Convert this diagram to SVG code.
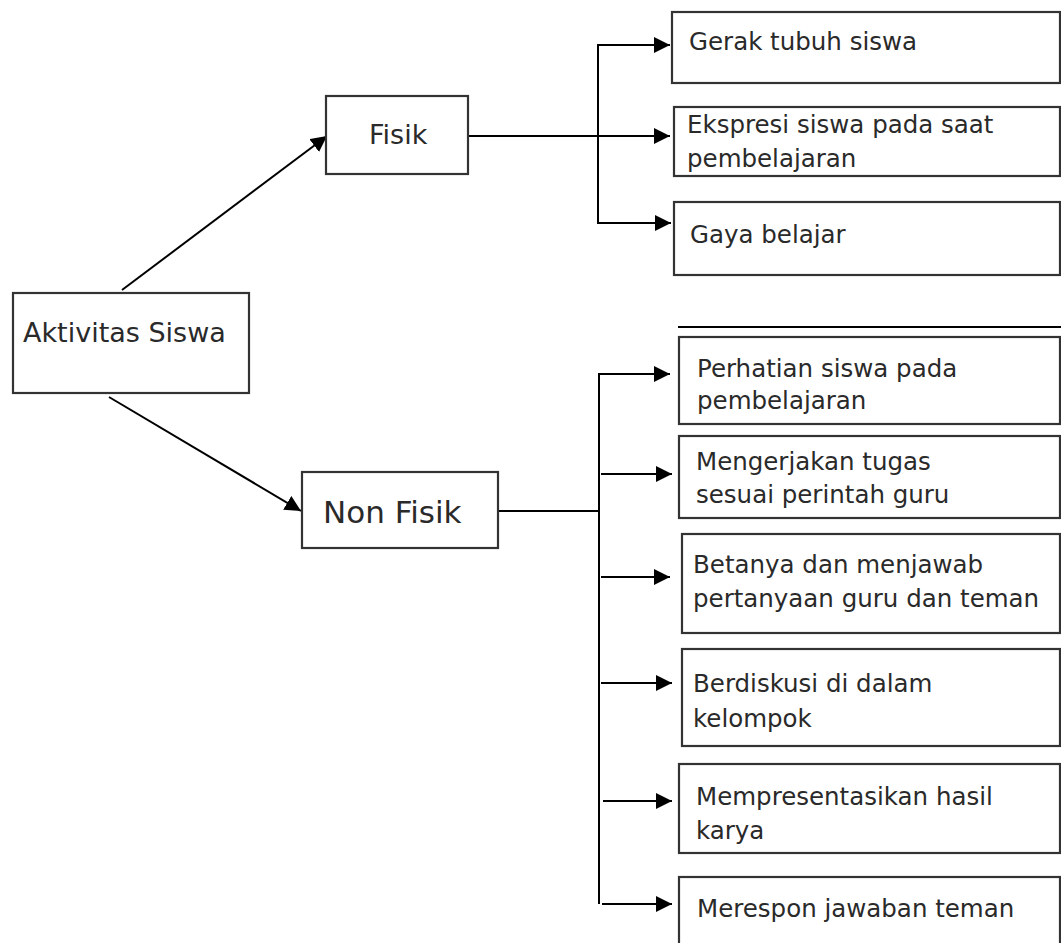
<svg xmlns="http://www.w3.org/2000/svg" width="1061" height="943" viewBox="0 0 1061 943">
<style>
.box{fill:#fff;stroke:#333;stroke-width:2.2}
.t{font-family:"DejaVu Sans",sans-serif;fill:#2a2a2a;font-size:24.5px}
.big{font-size:27px}
.nf{font-size:31px}
.c{fill:none;stroke:#000;stroke-width:2}
</style>
<defs>
<marker id="ah" markerUnits="userSpaceOnUse" markerWidth="18" markerHeight="18" refX="16" refY="8" orient="auto">
<path d="M0,0 L16,8 L0,16 z" fill="#000"/>
</marker>
</defs>
<rect width="1061" height="943" fill="#fff"/>
<g id="connectors">
<line class="c" x1="122" y1="290" x2="327" y2="136" marker-end="url(#ah)"/>
<line class="c" x1="109" y1="397" x2="301" y2="511" marker-end="url(#ah)"/>
<line class="c" x1="468" y1="136" x2="670" y2="136" marker-end="url(#ah)"/>
<line class="c" x1="598" y1="44" x2="598" y2="224"/>
<line class="c" x1="597" y1="45" x2="670" y2="45" marker-end="url(#ah)"/>
<line class="c" x1="597" y1="223" x2="671" y2="223" marker-end="url(#ah)"/>
<line class="c" x1="498" y1="511" x2="600" y2="511"/>
<line class="c" x1="599" y1="373" x2="599" y2="904"/>
<line class="c" x1="598" y1="374" x2="670" y2="374" marker-end="url(#ah)"/>
<line class="c" x1="601" y1="474" x2="672" y2="474" marker-end="url(#ah)"/>
<line class="c" x1="601" y1="577" x2="670" y2="577" marker-end="url(#ah)"/>
<line class="c" x1="601" y1="683" x2="672" y2="683" marker-end="url(#ah)"/>
<line class="c" x1="603" y1="801" x2="672" y2="801" marker-end="url(#ah)"/>
<line class="c" x1="602" y1="904" x2="672" y2="904" marker-end="url(#ah)"/>
<line class="c" x1="678" y1="327" x2="1061" y2="327"/>
</g>
<g id="aktivitas"><rect class="box" x="13" y="293" width="236" height="100"/><text class="t big" x="23" y="342">Aktivitas Siswa</text></g>
<g id="fisik"><rect class="box" x="326" y="96" width="142" height="78"/><text class="t big" x="369" y="144">Fisik</text></g>
<g id="nonfisik"><rect class="box" x="302" y="472" width="196" height="76"/><text class="t nf" x="323" y="523">Non Fisik</text></g>
<g id="gerak"><rect class="box" x="672" y="12" width="388" height="71"/><text class="t" x="689" y="50">Gerak tubuh siswa</text></g>
<g id="ekspresi"><rect class="box" x="674" y="107" width="386" height="69"/><text class="t" x="687" y="133">Ekspresi siswa pada saat</text><text class="t" x="687" y="167">pembelajaran</text></g>
<g id="gaya"><rect class="box" x="674" y="202" width="386" height="73"/><text class="t" x="690" y="243">Gaya belajar</text></g>
<g id="perhatian"><rect class="box" x="679" y="337" width="381" height="87"/><text class="t" x="697" y="377">Perhatian siswa pada</text><text class="t" x="697" y="409">pembelajaran</text></g>
<g id="mengerjakan"><rect class="box" x="679" y="436" width="381" height="82"/><text class="t" x="696" y="470">Mengerjakan tugas</text><text class="t" x="696" y="503">sesuai perintah guru</text></g>
<g id="betanya"><rect class="box" x="682" y="534" width="378" height="99"/><text class="t" x="693" y="573">Betanya dan menjawab</text><text class="t" x="693" y="607">pertanyaan guru dan teman</text></g>
<g id="berdiskusi"><rect class="box" x="682" y="649" width="378" height="97"/><text class="t" x="693" y="692">Berdiskusi di dalam</text><text class="t" x="693" y="727">kelompok</text></g>
<g id="mempresentasikan"><rect class="box" x="679" y="764" width="381" height="89"/><text class="t" x="696" y="805">Mempresentasikan hasil</text><text class="t" x="696" y="839">karya</text></g>
<g id="merespon"><rect class="box" x="679" y="877" width="381" height="75"/><text class="t" x="697" y="917">Merespon jawaban teman</text></g>
</svg>
